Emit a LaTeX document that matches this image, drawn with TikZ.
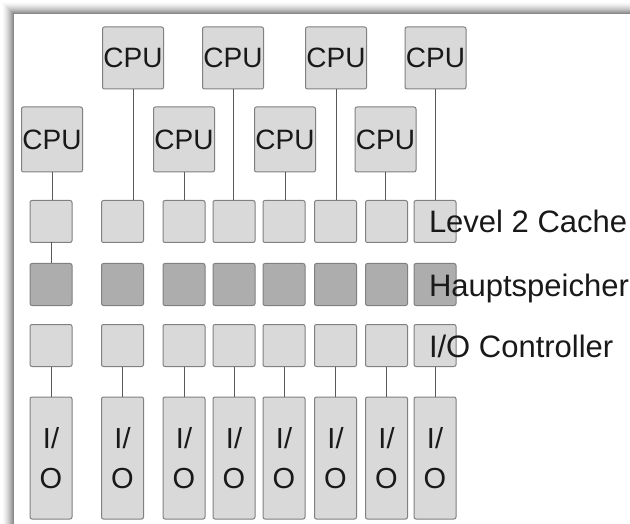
\documentclass[tikz,border=0pt]{standalone}
\usepackage{fontspec}
\setmainfont{Liberation Sans}
\begin{document}
\begin{tikzpicture}[x=1pt,y=-1pt,
  every node/.style={inner sep=0pt, outer sep=0pt},
  bx/.style={draw=black!50, fill=black!15, line width=1pt, rounded corners=2pt, minimum width=42pt, minimum height=42pt, text=black!90},
  hs/.style={bx, fill=black!32},
  cpubox/.style={bx, minimum width=61pt, font=\fontsize{28}{28}\selectfont},
  iobox/.style={bx, minimum height=122pt, align=center, font=\fontsize{29}{40}\selectfont},
  lbl/.style={anchor=base west, font=\fontsize{31}{31}\selectfont, text=black!90},
  wire/.style={draw=black!65, line width=1pt}]
\useasboundingbox (0,0) rectangle (630,524);
\fill[white] (0,0) rectangle (630,524);
% shadowed frame
\foreach \k in {0,...,11}{
  \pgfmathsetmacro{\sh}{46*(1-\k/12)^1.6}
  \draw[line width=1.05pt, black!\sh] (13.5-\k,524) -- (13.5-\k,13.5-\k) -- (630,13.5-\k);
}
% columns
\foreach \i/\cx in {1/51,2/122.5,3/184,4/234,5/284,6/335.5,7/386.5,8/435}{
  \node[bx] (l\i) at (\cx,221.5) {};
  \node[hs] (h\i) at (\cx,284.5) {};
  \node[bx] (c\i) at (\cx,345.5) {};
  \node[iobox] (io\i) at (\cx,458) {I/\\O};
  \draw[wire] (c\i.south) -- (io\i.north);
}
\draw[wire] (l1.south) -- (h1.north);
% CPUs
\node[cpubox, minimum height=65pt] (p1) at (52,139.5) {CPU};
\node[cpubox, minimum height=62pt] (p2) at (133,58) {CPU};
\node[cpubox, minimum height=65pt] (p3) at (184,139.5) {CPU};
\node[cpubox, minimum height=62pt] (p4) at (233,58) {CPU};
\node[cpubox, minimum height=65pt] (p5) at (285,139.5) {CPU};
\node[cpubox, minimum height=62pt] (p6) at (336,58) {CPU};
\node[cpubox, minimum height=65pt] (p7) at (385.5,139.5) {CPU};
\node[cpubox, minimum height=62pt] (p8) at (435.5,58) {CPU};
\foreach \i in {1,...,8}{
  \draw[wire] (p\i.south) -- (p\i.south |- l\i.north);
}
% labels
\node[lbl] (t1) at (429,233) {Level 2 Cache};
\node[lbl] (t2) at (429,296) {Hauptspeicher};
\node[lbl] (t3) at (429,357) {I/O Controller};
\end{tikzpicture}
\end{document}
